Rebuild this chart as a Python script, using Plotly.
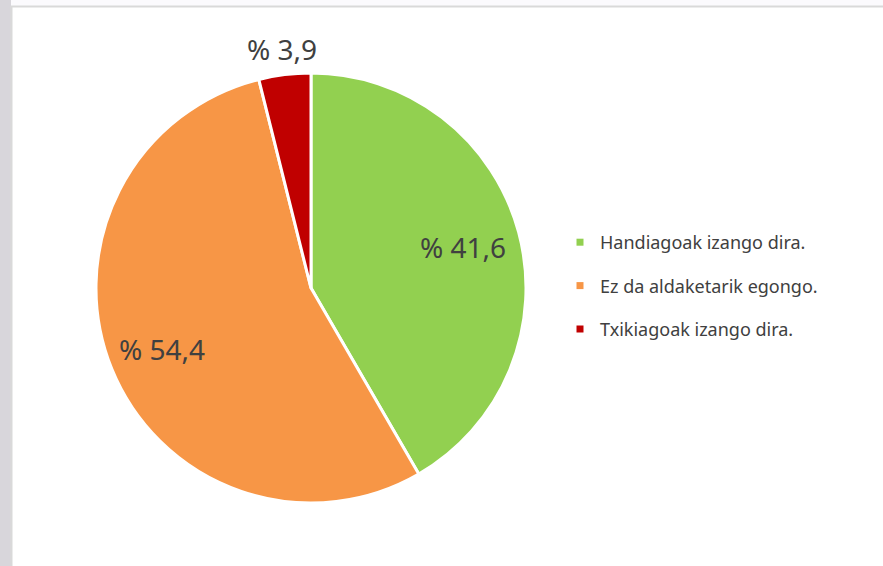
import math
import plotly.graph_objects as go

categories = ["Handiagoak izango dira.", "Ez da aldaketarik egongo.", "Txikiagoak izango dira."]
values = [41.6, 54.4, 3.9]
colors = ["#92D050", "#F79646", "#C00000"]
label_radius = [0.73, 0.75, 1.12]  # fraction of pie radius where each value label sits

labels_text = ["% " + f"{v:.1f}".replace(".", ",") for v in values]

W, H = 883, 566
CX, CY, R = 311, 288, 215  # pie centre / radius in pixels

fig = go.Figure()

fig.add_trace(go.Pie(
    labels=categories,
    values=values,
    textinfo="none",
    sort=False,
    direction="clockwise",
    rotation=0,
    marker=dict(colors=colors, line=dict(color="white", width=3)),
    domain=dict(x=[(CX - R) / W, (CX + R) / W], y=[1 - (CY + R) / H, 1 - (CY - R) / H]),
    showlegend=False,
    hoverinfo="label+percent",
))

# value labels placed at the middle angle of each slice
total = sum(values)
annotations = []
cum = 0.0
for v, txt, rf in zip(values, labels_text, label_radius):
    mid = (cum + v / 2) / total * 2 * math.pi
    cum += v
    px = CX + rf * R * math.sin(mid)
    py = CY - rf * R * math.cos(mid)
    annotations.append(dict(
        x=px / W, y=1 - py / H, xref="paper", yref="paper", text=txt, showarrow=False,
        xanchor="center", yanchor="middle",
        font=dict(family="Noto Sans", size=28, color="#404040"),
    ))

# legend entries (one group each so the spacing can be set)
for cat, col in zip(categories, colors):
    fig.add_trace(go.Scatter(
        x=[None], y=[None], mode="markers", name=cat, legendgroup=cat,
        marker=dict(symbol="square", size=7, color=col),
        showlegend=True, hoverinfo="skip",
    ))

fig.update_layout(
    width=W, height=H,
    margin=dict(l=0, r=0, t=0, b=0),
    paper_bgcolor="white",
    plot_bgcolor="white",
    xaxis=dict(visible=False),
    yaxis=dict(visible=False),
    annotations=annotations,
    legend=dict(
        x=560 / W, y=1 - 224 / H, xanchor="left", yanchor="top",
        font=dict(family="Noto Sans", size=18, color="#404040"),
        tracegroupgap=17,
        bgcolor="rgba(0,0,0,0)",
    ),
    shapes=[
        dict(type="rect", xref="paper", yref="paper", x0=0, x1=1, y0=1 - 6 / H, y1=1,
             fillcolor="#FBFAFD", line=dict(width=0), layer="below"),
        dict(type="rect", xref="paper", yref="paper", x0=0, x1=11 / W, y0=0, y1=1,
             fillcolor="#D8D6DB", line=dict(width=0), layer="below"),
        dict(type="line", xref="paper", yref="paper", x0=11 / W, x1=1, y0=1 - 6.5 / H, y1=1 - 6.5 / H,
             line=dict(color="#D9D9D9", width=2)),
        dict(type="line", xref="paper", yref="paper", x0=11.5 / W, x1=11.5 / W, y0=0, y1=1 - 6 / H,
             line=dict(color="#D9D9D9", width=2)),
    ],
)

fig.write_html("out.html", config={"displayModeBar": False},
               post_script="document.body.style.margin='0';")
